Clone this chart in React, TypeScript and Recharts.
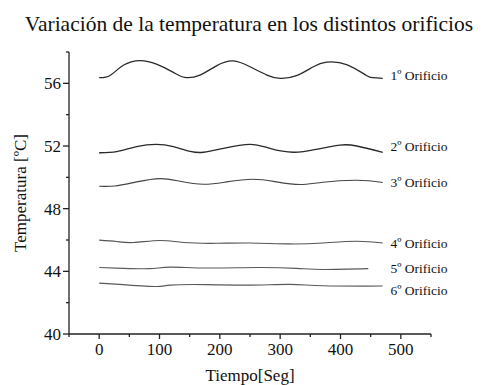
import { LineChart, Line, XAxis, YAxis, ReferenceDot } from "recharts";

const FONT = "'Liberation Serif', 'Times New Roman', serif";

// tiempo [s] y temperatura [ºC]
const t1 = [0, 18, 40, 68, 95, 123, 142, 167, 195, 222, 250, 278, 300, 327, 355, 377, 410, 443, 454, 470];
const v1 = [56.36, 56.5, 57.15, 57.45, 57.22, 56.7, 56.38, 56.53, 57.13, 57.43, 57.06, 56.53, 56.32, 56.49, 57.06, 57.35, 57.2, 56.5, 56.36, 56.32];

const t2 = [0, 29, 62, 95, 123, 151, 173, 206, 250, 283, 322, 360, 399, 427, 470];
const v2 = [51.57, 51.64, 51.96, 52.11, 51.96, 51.66, 51.6, 51.85, 52.11, 51.85, 51.6, 51.79, 52.06, 52.0, 51.6];

const t3 = [0, 26, 62, 101, 134, 173, 211, 255, 294, 333, 371, 427, 470];
const v3 = [49.43, 49.45, 49.71, 49.92, 49.75, 49.56, 49.71, 49.88, 49.71, 49.54, 49.69, 49.81, 49.67];

const t4 = [0, 29, 57, 101, 140, 195, 250, 316, 371, 427, 470];
const v4 = [45.99, 45.9, 45.84, 45.97, 45.84, 45.79, 45.81, 45.75, 45.81, 45.92, 45.81];

const t5 = [0, 40, 84, 118, 178, 261, 327, 371, 446];
const v5 = [44.24, 44.19, 44.17, 44.27, 44.21, 44.24, 44.19, 44.12, 44.17];

const t6 = [0, 40, 95, 118, 178, 250, 316, 371, 470];
const v6 = [43.25, 43.15, 43.03, 43.12, 43.15, 43.12, 43.17, 43.08, 43.06];

const seriesNames = ["1º Orificio", "2º Orificio", "3º Orificio", "4º Orificio", "5º Orificio", "6º Orificio"];
const labelT = 483;
const labelV = [56.53, 51.96, 49.71, 45.81, 44.17, 42.78];

const xTicks = [-50, 0, 50, 100, 150, 200, 250, 300, 350, 400, 450, 500, 550];
const xMajor = [0, 100, 200, 300, 400, 500];
const yTicks = [40, 42, 44, 46, 48, 50, 52, 54, 56, 58];
const yMajor = [40, 44, 48, 52, 56];

const zip = (ts: number[], vs: number[]) => ts.map((t, i) => ({ t, v: vs[i] }));
const series = [zip(t1, v1), zip(t2, v2), zip(t3, v3), zip(t4, v4), zip(t5, v5), zip(t6, v6)];
const lineColors = ["#2a2a2a", "#2a2a2a", "#444", "#555", "#5a5a5a", "#5a5a5a"];

function XTick({ x, y, payload }: any) {
  const major = xMajor.includes(payload.value);
  return (
    <g>
      <line x1={x} x2={x} y1={y} y2={y + (major ? 5 : 3)} stroke="#222" strokeWidth={1.3} />
      {major && (
        <text x={x} y={y + 21} textAnchor="middle" fontSize={17} fontFamily={FONT} fill="#111">
          {payload.value}
        </text>
      )}
    </g>
  );
}

function YTick({ x, y, payload }: any) {
  const major = yMajor.includes(payload.value);
  return (
    <g>
      <line x1={x} x2={x - (major ? 6 : 3)} y1={y} y2={y} stroke="#222" strokeWidth={1.3} />
      {major && (
        <text x={x - 8} y={y} dy="0.35em" textAnchor="end" fontSize={17} fontFamily={FONT} fill="#111">
          {payload.value}
        </text>
      )}
    </g>
  );
}

export default function App() {
  return (
    <div style={{ position: "absolute", left: 0, top: 0, width: 483, height: 385, background: "#fff" }}>
      <svg width={483} height={40} style={{ position: "absolute", left: 0, top: 0 }}>
        <text x={249} y={31} textAnchor="middle" fontSize={21.5} fontFamily={FONT} fill="#111">
          Variación de la temperatura en los distintos orificios
        </text>
      </svg>
      <LineChart
        width={483}
        height={385}
        margin={{ top: 52, right: 52, bottom: 0, left: 0 }}
        style={{ position: "absolute", left: 0, top: 0 }}
      >
        <XAxis
          dataKey="t"
          type="number"
          domain={[-50, 550]}
          ticks={xTicks}
          allowDataOverflow
          height={51}
          tickSize={0}
          tickMargin={0}
          tickLine={false}
          tick={<XTick />}
          interval={0}
          axisLine={{ stroke: "#222", strokeWidth: 1.3 }}
          label={{
            value: "Tiempo[Seg]",
            position: "insideBottom",
            offset: 4,
            style: { fontSize: 17, fontFamily: FONT, fill: "#111" },
          }}
        />
        <YAxis
          type="number"
          domain={[40, 58]}
          ticks={yTicks}
          allowDataOverflow
          width={69}
          tickSize={0}
          tickMargin={0}
          tickLine={false}
          tick={<YTick />}
          interval={0}
          axisLine={{ stroke: "#222", strokeWidth: 1.3 }}
          label={{
            value: "Temperatura [ºC]",
            angle: -90,
            position: "insideLeft",
            offset: 20,
            style: { fontSize: 17, fontFamily: FONT, fill: "#111", textAnchor: "middle" },
          }}
        />
        {series.map((d, i) => (
          <Line
            key={seriesNames[i]}
            data={d}
            dataKey="v"
            type="natural"
            stroke={lineColors[i]}
            strokeWidth={i < 2 ? 1.3 : 1.1}
            dot={false}
            activeDot={false}
            isAnimationActive={false}
          />
        ))}
        {seriesNames.map((name, i) => (
          <ReferenceDot
            key={name}
            x={labelT}
            y={labelV[i]}
            ifOverflow="visible"
            shape={(p: any) => (
              <text x={p.cx} y={p.cy} dy="0.35em" fontSize={13.5} fontFamily={FONT} fill="#111">
                {name}
              </text>
            )}
          />
        ))}
      </LineChart>
    </div>
  );
}
